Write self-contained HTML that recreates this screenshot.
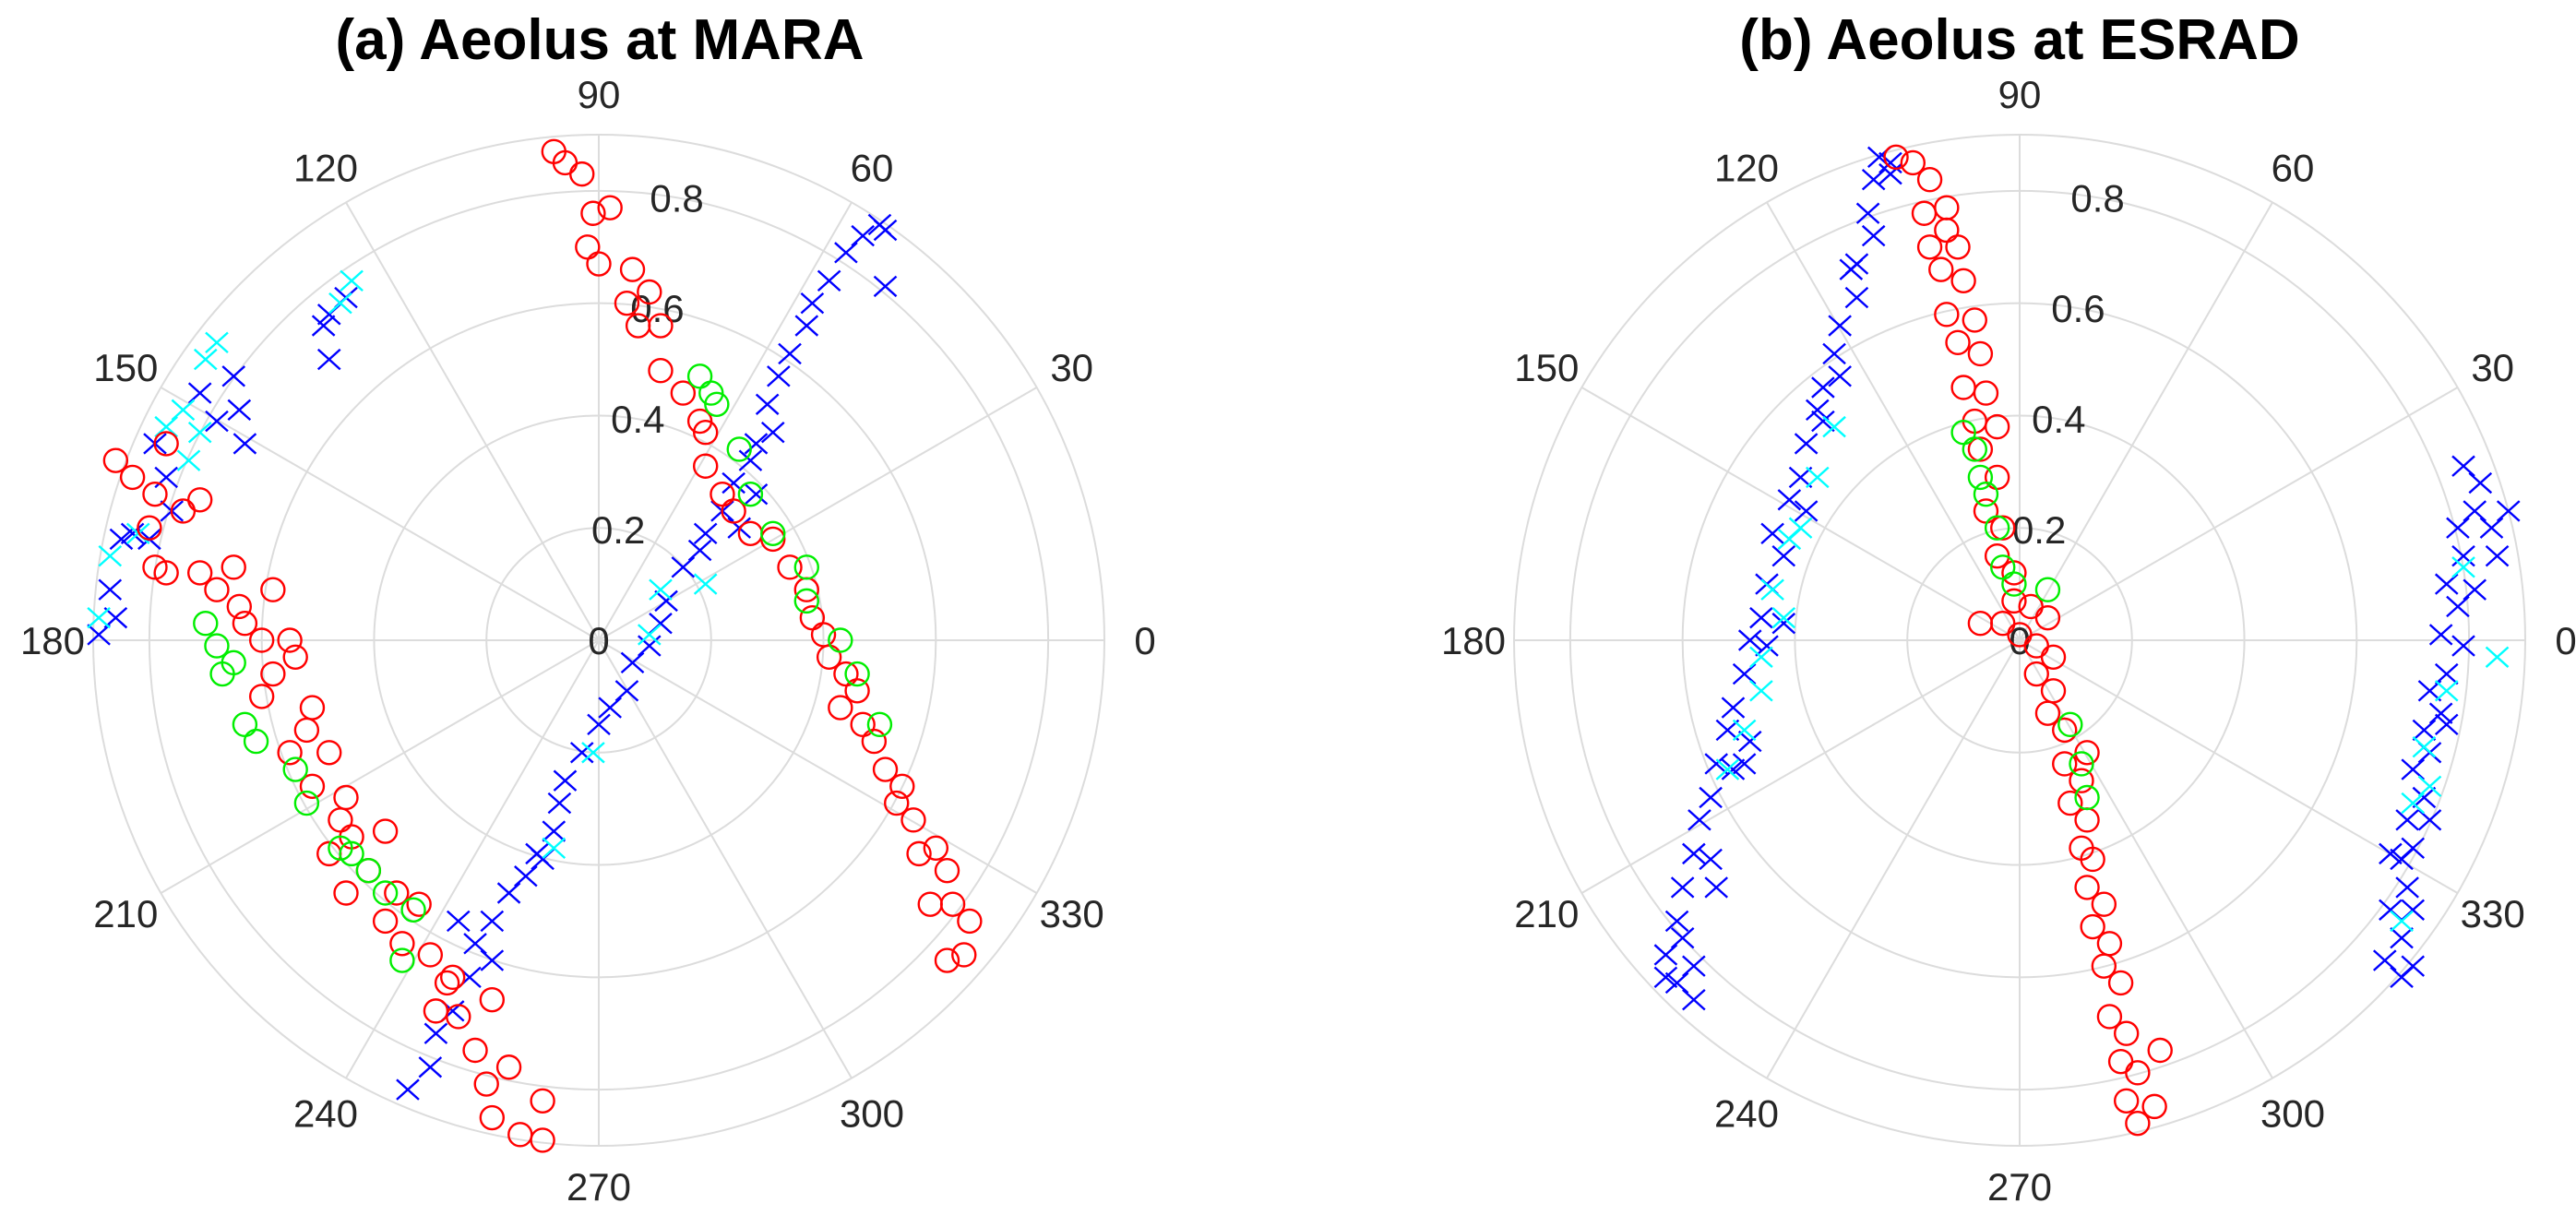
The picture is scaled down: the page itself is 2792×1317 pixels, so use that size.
<!DOCTYPE html>
<html><head><meta charset="utf-8"><style>
html,body{margin:0;padding:0;background:#fff;}
svg{display:block;}
text{font-family:"Liberation Sans",Arial,sans-serif;}
</style></head>
<body>
<svg id="fig" width="2792" height="1317" viewBox="0 0 2792 1317" xmlns="http://www.w3.org/2000/svg">
<text x="650" y="64" font-size="62" font-weight="bold" text-anchor="middle" fill="#000">(a) Aeolus at MARA</text>
<text x="2189" y="64" font-size="62" font-weight="bold" text-anchor="middle" fill="#000">(b) Aeolus at ESRAD</text>
<g id="panelA"></g>
<g id="panelB"></g>
</svg>
<script>
// data as [east, north] components (data units)
const thetaTicks = [0,30,60,90,120,150,180,210,240,270,300,330];
const rTicks = [0.2,0.4,0.6,0.8];
const rMax = 0.9;

const maraRed = [[-0.08,0.87],[-0.06,0.85],[-0.03,0.83],[-0.01,0.76],[0.02,0.77],[-0.02,0.70],[0.00,0.67],[0.06,0.66],[0.05,0.60],[0.09,0.62],[0.07,0.56],[0.11,0.56],[0.11,0.48],[0.15,0.44],[0.18,0.39],[0.19,0.37],[0.19,0.31],[0.22,0.26],[0.24,0.23],[0.27,0.19],[0.31,0.18],[0.34,0.13],[0.37,0.09],[0.38,0.04],[0.40,0.01],[0.41,-0.03],[0.44,-0.06],[0.46,-0.09],[0.43,-0.12],[0.47,-0.15],[0.49,-0.18],[0.51,-0.23],[0.54,-0.26],[0.53,-0.29],[0.56,-0.32],[0.57,-0.38],[0.60,-0.37],[0.62,-0.41],[0.63,-0.47],[0.66,-0.50],[0.65,-0.56],[0.62,-0.57],[0.59,-0.47],
[-0.86,0.32],[-0.83,0.29],[-0.77,0.35],[-0.79,0.26],[-0.80,0.20],[-0.74,0.23],[-0.71,0.25],[-0.77,0.12],[-0.79,0.13],[-0.71,0.12],[-0.65,0.13],[-0.68,0.09],[-0.64,0.06],[-0.58,0.09],[-0.63,0.03],[-0.60,0.00],[-0.55,0.00],[-0.58,-0.06],[-0.54,-0.03],[-0.60,-0.10],[-0.51,-0.12],[-0.52,-0.16],[-0.55,-0.20],[-0.48,-0.20],[-0.51,-0.26],[-0.45,-0.28],[-0.46,-0.32],[-0.44,-0.35],[-0.48,-0.38],[-0.38,-0.34],[-0.41,-0.41],[-0.45,-0.45],[-0.36,-0.45],[-0.38,-0.50],[-0.32,-0.47],[-0.35,-0.54],[-0.30,-0.56],[-0.27,-0.61],[-0.29,-0.66],[-0.25,-0.67],[-0.22,-0.73],[-0.20,-0.79],[-0.19,-0.85],[-0.14,-0.88],[-0.10,-0.89],[-0.10,-0.82],[-0.16,-0.76],[-0.19,-0.64],[-0.26,-0.60]];
const maraGreen = [[0.20,0.44],[0.21,0.42],[0.18,0.47],[0.25,0.34],[0.27,0.26],[0.31,0.19],[0.37,0.13],[0.37,0.07],[0.43,0.00],[0.46,-0.06],[0.50,-0.15],
[-0.70,0.03],[-0.68,-0.01],[-0.65,-0.04],[-0.67,-0.06],[-0.63,-0.15],[-0.61,-0.18],[-0.54,-0.23],[-0.52,-0.29],[-0.46,-0.37],[-0.44,-0.38],[-0.41,-0.41],[-0.35,-0.57],[-0.38,-0.45],[-0.33,-0.48]];
const maraBlue = [[-0.34,-0.80],[-0.30,-0.76],[-0.29,-0.70],[-0.26,-0.66],[-0.23,-0.60],[-0.22,-0.54],[-0.19,-0.50],[-0.16,-0.45],[-0.13,-0.42],[-0.11,-0.38],[-0.08,-0.34],[-0.07,-0.29],[-0.06,-0.25],[-0.03,-0.20],[0.00,-0.15],[0.02,-0.12],[0.05,-0.09],[0.06,-0.04],[0.09,-0.01],[0.11,0.03],[0.12,0.07],[0.15,0.13],[0.18,0.16],[0.19,0.19],[0.22,0.23],[0.24,0.28],[0.27,0.32],[0.28,0.35],[0.31,0.37],[0.30,0.42],[0.32,0.47],[0.34,0.51],[0.37,0.56],[0.38,0.60],[0.41,0.64],[0.44,0.69],[0.47,0.72],[0.50,0.74],[0.51,0.73],[0.51,0.63],[-0.25,-0.50],[-0.10,-0.39],[-0.19,-0.57],[0.28,0.26],[0.25,0.20],
[-0.89,0.01],[-0.85,0.18],[-0.86,0.04],[-0.83,0.19],[-0.87,0.09],[-0.79,0.35],[-0.77,0.29],[-0.71,0.44],[-0.68,0.39],[-0.65,0.47],[-0.64,0.41],[-0.63,0.35],[-0.49,0.56],[-0.48,0.58],[-0.45,0.61],[-0.76,0.23],[-0.80,0.18],[-0.48,0.50]];
const maraCyan = [[0.09,0.01],[-0.08,-0.37],[0.19,0.10],[0.11,0.09],[-0.01,-0.20],
[-0.89,0.04],[-0.87,0.15],[-0.82,0.19],[-0.77,0.38],[-0.74,0.41],[-0.70,0.50],[-0.68,0.53],[-0.44,0.64],[-0.46,0.60],[-0.73,0.32],[-0.71,0.37]];

const esradRed = [[-0.22,0.86],[-0.19,0.85],[-0.16,0.82],[-0.17,0.76],[-0.13,0.77],[-0.16,0.70],[-0.11,0.70],[-0.14,0.66],[-0.10,0.64],[-0.13,0.58],[-0.08,0.57],[-0.11,0.53],[-0.07,0.51],[-0.10,0.45],[-0.06,0.44],[-0.08,0.39],[-0.04,0.38],[-0.07,0.34],[-0.04,0.29],[-0.06,0.23],[-0.03,0.20],[-0.04,0.15],[-0.01,0.12],[-0.01,0.07],[0.02,0.06],[0.00,0.01],[0.05,0.04],[0.03,-0.01],[0.03,-0.06],[0.06,-0.09],[0.05,-0.13],[0.08,-0.16],[0.08,-0.22],[0.11,-0.25],[0.09,-0.29],[0.12,-0.32],[0.11,-0.37],[0.13,-0.39],[0.12,-0.44],[0.15,-0.47],[0.13,-0.51],[0.16,-0.54],[0.15,-0.58],[0.18,-0.61],[0.16,-0.67],[0.19,-0.70],[0.18,-0.75],[0.21,-0.77],[0.19,-0.82],[0.24,-0.83],[0.21,-0.86],[0.25,-0.73],[0.12,-0.20],[0.06,-0.03],[-0.07,0.03],[-0.03,0.03],[-0.13,0.73]];
const esradGreen = [[-0.10,0.37],[-0.08,0.34],[-0.07,0.29],[-0.06,0.26],[-0.04,0.20],[-0.03,0.13],[-0.01,0.10],[0.05,0.09],[0.11,-0.22],[0.12,-0.28],[0.09,-0.15]];
const esradBlue = [[-0.25,0.86],[-0.26,0.82],[-0.23,0.83],[-0.27,0.76],[-0.26,0.72],[-0.30,0.66],[-0.29,0.61],[-0.32,0.56],[-0.33,0.51],[-0.35,0.45],[-0.36,0.41],[-0.38,0.35],[-0.39,0.29],[-0.41,0.25],[-0.44,0.19],[-0.42,0.15],[-0.45,0.10],[-0.46,0.04],[-0.48,0.00],[-0.49,-0.06],[-0.51,-0.12],[-0.52,-0.16],[-0.54,-0.22],[-0.55,-0.28],[-0.57,-0.32],[-0.58,-0.38],[-0.60,-0.44],[-0.61,-0.50],[-0.63,-0.56],[-0.61,-0.61],[-0.58,-0.58],[-0.60,-0.53],[-0.55,-0.39],[-0.51,-0.23],[-0.48,-0.18],[-0.42,0.03],[-0.38,0.23],[-0.32,0.47],[-0.29,0.67],[-0.23,0.85],[-0.58,-0.64],[-0.63,-0.60],[-0.54,-0.44],[-0.45,-0.01],[-0.35,0.39],[-0.49,-0.22],
[0.79,0.31],[0.82,0.28],[0.81,0.23],[0.78,0.20],[0.84,0.20],[0.79,0.15],[0.76,0.10],[0.81,0.09],[0.78,0.06],[0.75,0.01],[0.79,-0.01],[0.76,-0.06],[0.73,-0.09],[0.75,-0.13],[0.72,-0.16],[0.73,-0.20],[0.70,-0.23],[0.72,-0.28],[0.69,-0.32],[0.70,-0.37],[0.68,-0.39],[0.69,-0.44],[0.66,-0.48],[0.68,-0.53],[0.65,-0.57],[0.68,-0.60],[0.70,-0.48],[0.73,-0.32],[0.76,-0.15],[0.85,0.15],[0.87,0.23],[0.70,-0.58],[0.66,-0.38]];
const esradCyan = [[-0.39,0.20],[-0.41,0.18],[-0.44,0.09],[-0.46,-0.03],[-0.49,-0.16],[-0.52,-0.23],[-0.36,0.29],[-0.33,0.38],[-0.42,0.04],[-0.46,-0.09],
[0.85,-0.03],[0.76,-0.09],[0.72,-0.19],[0.70,-0.29],[0.68,-0.50],[0.73,-0.26],[0.79,0.13]];

const NS = "http://www.w3.org/2000/svg";
const R = 548;
const scale = R / rMax;
function mk(tag, attrs, parent){ const e=document.createElementNS(NS,tag); for(const k in attrs) e.setAttribute(k,attrs[k]); parent.appendChild(e); return e; }
function xPos(cx,u){ return cx + u*scale; }
function yPos(cy,v){ return cy - v*scale; }

function drawPanel(g, cx, cy, series){
  const grid = mk('g',{},g);
  
  
  rTicks.concat([rMax]).forEach(rv=>{
    const c = mk('circle',{cx:cx,cy:cy,r:rv*scale,fill:'none',stroke:'#dcdcdc','stroke-width':2},grid);
    
    
  });
  thetaTicks.forEach(t=>{
    const a=t*Math.PI/180;
    const l = mk('line',{x1:cx,y1:cy,x2:cx+R*Math.cos(a),y2:cy-R*Math.sin(a),stroke:'#dcdcdc','stroke-width':2},grid);
    
    
    const tx = mk('text',{x:cx+592*Math.cos(a),y:cy-592*Math.sin(a)+15,'font-size':42,'text-anchor':'middle',fill:'#262626'},g);
    tx.textContent=String(t);
    
    
  });
  [0].concat(rTicks).forEach(rv=>{
    const a=80*Math.PI/180;
    const tx = mk('text',{x:cx+rv*scale*Math.cos(a),y:cy-rv*scale*Math.sin(a)+15,'font-size':42,'text-anchor':'middle',fill:'#262626'},g);
    tx.textContent = rv===0?'0':rv.toFixed(1);
    
    
  });
  series.forEach(s=>{
    const sg = mk('g',{fill:'none',stroke:s.color,'stroke-width':2.4},g);
    
    
    s.data.forEach(p=>{
      const x=xPos(cx,p[0]), y=yPos(cy,p[1]);
      if(s.marker==='o'){
        const c=mk('circle',{cx:x,cy:y,r:12.5},sg);
        
        
      } else {
        const h=12;
        const pth=mk('path',{d:`M${x-h},${y-h*0.9}L${x+h},${y+h*0.9}M${x-h},${y+h*0.9}L${x+h},${y-h*0.9}`},sg);
        
        
      }
    });
  });
}
drawPanel(document.getElementById('panelA'),649,694,[
  {name:'mara-blue-series',color:'#0000ff',marker:'x',data:maraBlue},
  {name:'mara-cyan-series',color:'#00ffff',marker:'x',data:maraCyan},
  {name:'mara-red-series',color:'#ff0000',marker:'o',data:maraRed},
  {name:'mara-green-series',color:'#00ee00',marker:'o',data:maraGreen}
]);
drawPanel(document.getElementById('panelB'),2189,694,[
  {name:'esrad-blue-series',color:'#0000ff',marker:'x',data:esradBlue},
  {name:'esrad-cyan-series',color:'#00ffff',marker:'x',data:esradCyan},
  {name:'esrad-red-series',color:'#ff0000',marker:'o',data:esradRed},
  {name:'esrad-green-series',color:'#00ee00',marker:'o',data:esradGreen}
]);
</script>
</body></html>
